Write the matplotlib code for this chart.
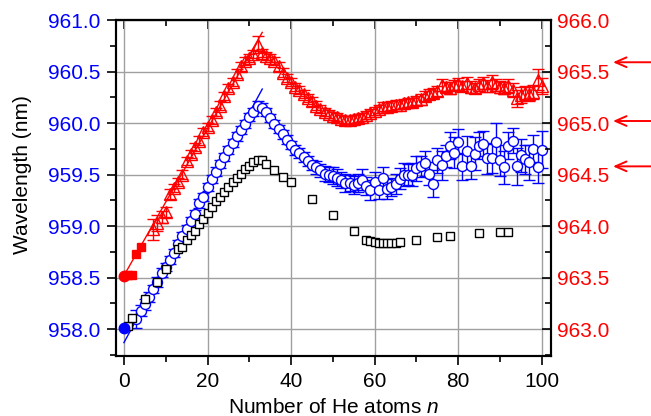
import matplotlib
matplotlib.use("Agg")
import matplotlib.pyplot as plt
from matplotlib import ticker

plt.rcParams["font.family"] = ["Liberation Sans", "DejaVu Sans"]
plt.rcParams["mathtext.fontset"] = "custom"
plt.rcParams["mathtext.it"] = "Liberation Sans:italic"
plt.rcParams["mathtext.rm"] = "Liberation Sans"

# black open squares (left axis)
n_sq = [1, 2, 5, 8, 10, 13, 14, 15, 16, 17, 18, 19, 20, 21, 22, 23, 24, 25,
        26, 27, 28, 29, 30, 31, 32, 33, 34, 36, 38, 40, 45, 50, 55, 58, 59,
        60, 61, 62, 63, 64, 65, 66, 70, 75, 78, 85, 90, 92]
wl_sq = [958.03, 958.11, 958.29, 958.46, 958.58, 958.78, 958.80, 958.87,
         958.91, 958.95, 959.02, 959.07, 959.13, 959.19, 959.24, 959.28,
         959.33, 959.38, 959.43, 959.47, 959.51, 959.55, 959.58, 959.62,
         959.64, 959.64, 959.60, 959.54, 959.48, 959.43, 959.26, 959.11,
         958.95, 958.87, 958.86, 958.85, 958.84, 958.84, 958.84, 958.84,
         958.84, 958.85, 958.87, 958.89, 958.90, 958.93, 958.94, 958.94]

# blue open circles with error bars (left axis)
n_blue = list(range(3, 101))
wl_blue = [958.10, 958.18, 958.24, 958.31, 958.39, 958.46, 958.55, 958.60,
           958.67, 958.74, 958.83, 958.90, 958.97, 959.05, 959.12, 959.22,
           959.28, 959.38, 959.46, 959.53, 959.60, 959.67, 959.74, 959.81,
           959.87, 959.93, 959.99, 960.06, 960.11, 960.17, 960.15, 960.11,
           960.05, 959.99, 959.94, 959.89, 959.84, 959.79, 959.74, 959.71,
           959.67, 959.63, 959.59, 959.57, 959.54, 959.51, 959.50, 959.49,
           959.47, 959.45, 959.42, 959.42, 959.40, 959.42, 959.45, 959.39,
           959.35, 959.43, 959.35, 959.47, 959.36, 959.38, 959.41, 959.46,
           959.50, 959.50, 959.50, 959.56, 959.58, 959.61, 959.51, 959.41,
           959.64, 959.59, 959.68, 959.78, 959.71, 959.82, 959.58, 959.73,
           959.58, 959.70, 959.78, 959.80, 959.66, 959.66, 959.82, 959.64,
           959.57, 959.78, 959.83, 959.58, 959.69, 959.65, 959.62, 959.75,
           959.57, 959.74]
err_blue = [0.09, 0.05, 0.05, 0.05, 0.04, 0.05, 0.04, 0.04, 0.04, 0.04,
            0.04, 0.04, 0.04, 0.04, 0.04, 0.04, 0.04, 0.04, 0.04, 0.04,
            0.04, 0.04, 0.04, 0.04, 0.04, 0.04, 0.04, 0.04, 0.04, 0.04,
            0.04, 0.04, 0.04, 0.04, 0.04, 0.04, 0.04, 0.04, 0.05, 0.05,
            0.05, 0.05, 0.05, 0.06, 0.06, 0.07, 0.07, 0.08, 0.08, 0.08,
            0.09, 0.08, 0.09, 0.09, 0.10, 0.09, 0.10, 0.10, 0.09, 0.10,
            0.10, 0.09, 0.10, 0.10, 0.11, 0.10, 0.11, 0.12, 0.10, 0.12,
            0.11, 0.13, 0.12, 0.14, 0.11, 0.13, 0.15, 0.12, 0.13, 0.14,
            0.12, 0.16, 0.13, 0.12, 0.15, 0.14, 0.18, 0.15, 0.16, 0.13,
            0.12, 0.18, 0.16, 0.14, 0.17, 0.13, 0.15, 0.18]

# red open triangles with error bars (right axis)
n_red = list(range(7, 101))
wl_red = [963.97, 964.03, 964.09, 964.14, 964.31, 964.37, 964.43, 964.50,
          964.63, 964.70, 964.77, 964.83, 964.91, 964.96, 965.03, 965.11,
          965.17, 965.26, 965.34, 965.40, 965.48, 965.55, 965.60, 965.63,
          965.67, 965.76, 965.68, 965.65, 965.63, 965.60, 965.55, 965.49,
          965.44, 965.40, 965.35, 965.32, 965.28, 965.24, 965.21, 965.17,
          965.14, 965.11, 965.09, 965.07, 965.06, 965.04, 965.03, 965.03,
          965.04, 965.05, 965.06, 965.08, 965.10, 965.12, 965.14, 965.16,
          965.16, 965.17, 965.18, 965.18, 965.19, 965.20, 965.20, 965.22,
          965.23, 965.26, 965.28, 965.29, 965.31, 965.37, 965.35, 965.34,
          965.37, 965.38, 965.36, 965.39, 965.35, 965.34, 965.37, 965.39,
          965.36, 965.40, 965.37, 965.35, 965.34, 965.36, 965.32, 965.24,
          965.27, 965.29, 965.28, 965.30, 965.42, 965.36]
err_red = [0.10, 0.08, 0.06, 0.05, 0.05, 0.04, 0.04, 0.04, 0.04, 0.04,
           0.04, 0.04, 0.04, 0.04, 0.04, 0.04, 0.04, 0.04, 0.04, 0.04,
           0.04, 0.04, 0.04, 0.04, 0.04, 0.08, 0.04, 0.04, 0.04, 0.04,
           0.04, 0.04, 0.04, 0.04, 0.04, 0.04, 0.04, 0.04, 0.04, 0.04,
           0.04, 0.04, 0.04, 0.04, 0.04, 0.04, 0.04, 0.04, 0.04, 0.04,
           0.04, 0.04, 0.04, 0.04, 0.04, 0.04, 0.04, 0.04, 0.04, 0.04,
           0.04, 0.04, 0.04, 0.04, 0.05, 0.05, 0.05, 0.05, 0.05, 0.06,
           0.05, 0.06, 0.05, 0.06, 0.05, 0.06, 0.06, 0.05, 0.06, 0.06,
           0.06, 0.07, 0.06, 0.06, 0.06, 0.07, 0.07, 0.08, 0.08, 0.07,
           0.07, 0.07, 0.10, 0.08]

# filled points at small n
n_blue_fill = [0]
wl_blue_fill = [958.01]
n_red_fill_circ = [0]
wl_red_fill_circ = [963.52]
n_red_fill_sq = [1, 2, 3, 4]
wl_red_fill_sq = [963.53, 963.53, 963.73, 963.80]

# linear fits (end points)
n_fit = [0, 33.1]
blue_fit = [957.87, 960.33]
red_fit = [963.52, 965.88]

# arrows on right axis
arrow_wl = [965.59, 965.02, 964.58]

FS = 15

fig = plt.figure(figsize=(6.51, 4.16), dpi=100)
ax = fig.add_axes([116 / 651, 1 - 356 / 416, 435 / 651, 336 / 416])
ax2 = ax.twinx()

ax.set_xlim(-1.9, 102.2)
ax.set_ylim(957.74, 961.0)
ax2.set_ylim(962.74, 966.0)

ax.grid(True, which="major", color="#a0a0a0", lw=1.0)
ax.set_axisbelow(True)

ax.plot(n_fit, blue_fit, color="blue", lw=1.0, zorder=2)
ax.errorbar(n_blue, wl_blue, yerr=err_blue, fmt="o", mfc="white",
            mec="blue", ms=7.2, mew=1.0, ecolor="blue", elinewidth=1.0,
            capsize=4.5, capthick=1.0, zorder=3)
ax.plot(n_sq, wl_sq, "s", mfc="white", mec="black", ms=6.0, mew=1.0,
        zorder=4)
ax.plot(n_blue_fill, wl_blue_fill, "o", color="blue", ms=7.5, zorder=5,
        clip_on=False)

ax2.plot(n_fit, red_fit, color="red", lw=1.0, zorder=2)
ax2.errorbar(n_red, wl_red, yerr=err_red, fmt="^", mfc="none",
             mec="red", ms=8.0, mew=1.0, ecolor="red", elinewidth=1.0,
             capsize=4.5, capthick=1.0, zorder=3)
ax2.plot(n_red_fill_sq, wl_red_fill_sq, "s", color="red", ms=6.0, zorder=4)
ax2.plot(n_red_fill_circ, wl_red_fill_circ, "o", color="red", ms=7.5,
         zorder=5, clip_on=False)

# ticks
ax.xaxis.set_major_locator(ticker.MultipleLocator(20))
ax.xaxis.set_minor_locator(ticker.MultipleLocator(10))
ax.yaxis.set_major_locator(ticker.MultipleLocator(0.5))
ax.yaxis.set_minor_locator(ticker.MultipleLocator(0.25))
ax2.yaxis.set_major_locator(ticker.MultipleLocator(0.5))
ax2.yaxis.set_minor_locator(ticker.MultipleLocator(0.25))
ax.yaxis.set_major_formatter(ticker.FormatStrFormatter("%.1f"))
ax2.yaxis.set_major_formatter(ticker.FormatStrFormatter("%.1f"))

ax.tick_params(axis="y", which="both", direction="out", labelsize=FS,
               labelcolor="blue", width=1.2, pad=5)
ax.tick_params(axis="y", which="major", length=6.5)
ax.tick_params(axis="y", which="minor", length=4)
ax.tick_params(axis="x", which="both", direction="out", labelsize=FS,
               width=1.2, top=False, pad=5)
ax.tick_params(axis="x", which="major", length=6.5)
ax.tick_params(axis="x", which="minor", length=4)
ax2.tick_params(axis="y", which="both", direction="in", labelsize=FS,
                labelcolor="red", width=1.2, pad=4)
ax2.tick_params(axis="y", which="major", length=6.5)
ax2.tick_params(axis="y", which="minor", length=4)

# top ticks pointing inwards
secx = ax.secondary_xaxis("top")
secx.xaxis.set_major_locator(ticker.MultipleLocator(20))
secx.xaxis.set_minor_locator(ticker.MultipleLocator(10))
secx.tick_params(which="both", direction="in", labeltop=False, width=1.2)
secx.tick_params(which="major", length=6.5)
secx.tick_params(which="minor", length=4)
secx.spines["top"].set_linewidth(1.5)

for sp in ax.spines.values():
    sp.set_linewidth(1.5)
for sp in ax2.spines.values():
    sp.set_linewidth(1.5)

ax.set_xlabel("Number of He atoms $\\mathit{n}$", fontsize=FS, labelpad=5)
ax.set_ylabel("Wavelength (nm)", fontsize=FS)
ax.yaxis.set_label_coords(-0.193, 0.54)

for w in arrow_wl:
    ax2.annotate("", xy=(613 / 651, w), xytext=(1.0, w),
                 xycoords=("figure fraction", "data"),
                 textcoords=("figure fraction", "data"),
                 arrowprops=dict(arrowstyle="->,head_length=0.8,head_width=0.35",
                                 color="red", lw=1.4, shrinkA=0, shrinkB=0),
                 annotation_clip=False)

fig.savefig("out.png", dpi=100)
